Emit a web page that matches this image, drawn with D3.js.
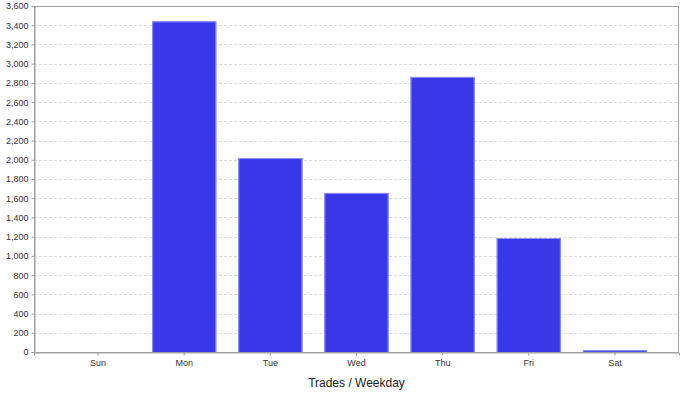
<!DOCTYPE html>
<html>
<head>
<meta charset="utf-8">
<script src="https://cdn.jsdelivr.net/npm/d3@7"></script>
<style>
  html, body { margin: 0; background: #fff; }
  svg { display: block; font-family: "Liberation Sans", Arial, sans-serif; }
</style>
</head>
<body>
<svg id="chart" width="686" height="396"></svg>
<script>
// chart data
const days = ['Sun', 'Mon', 'Tue', 'Wed', 'Thu', 'Fri', 'Sat']
const trades = [0, 3440, 2018, 1655, 2862, 1186, 18]
const yTicks = d3.range(0, 3601, 200)

const width = 686, height = 396
const margin = {top: 6, right: 7, bottom: 44, left: 34}

const svg = d3.select('#chart')

const x = d3.scaleBand()
	.domain(days)
	.range([margin.left, width - margin.right])
	.paddingInner(0.256)
	.paddingOuter(0.372)

const y = d3.scaleLinear()
	.domain([0, 3600])
	.range([height - margin.bottom, margin.top])

// dashed grid
svg.append('g')
	.selectAll('line')
	.data(yTicks.slice(1))
	.join('line')
	.attr('x1', margin.left)
	.attr('x2', width - margin.right)
	.attr('y1', d => Math.round(y(d)) + 0.5)
	.attr('y2', d => Math.round(y(d)) + 0.5)
	.attr('stroke', '#dcdcdc')
	.attr('stroke-dasharray', '3,2')

const barData = days.map((d, i) => ({day: d, value: trades[i]})).filter(d => d.value > 0)

// bars: solid fill, then a lighter edge on the top and sides
const bars = svg.append('g')
bars.selectAll('rect')
	.data(barData)
	.join('rect')
	.attr('x', d => x(d.day))
	.attr('y', d => y(d.value))
	.attr('width', x.bandwidth())
	.attr('height', d => y(0) - y(d.value))
	.attr('fill', '#3838e8')

bars.selectAll('path')
	.data(barData)
	.join('path')
	.attr('d', d => {
		const x0 = x(d.day) + 0.5, x1 = x(d.day) + x.bandwidth() - 0.5
		const t = y(d.value) + 0.5, b = y(0)
		return `M${x0},${b}V${t}H${x1}V${b}`
	})
	.attr('fill', 'none')
	.attr('stroke', '#9090f2')

// plot outline
svg.append('rect')
	.attr('x', margin.left + 0.5)
	.attr('y', margin.top + 0.5)
	.attr('width', width - margin.left - margin.right - 1)
	.attr('height', height - margin.top - margin.bottom)
	.attr('fill', 'none')
	.attr('stroke', '#a0a0a0')

// y axis
const yAxis = svg.append('g')
	.attr('transform', `translate(${margin.left + 0.5},0)`)
	.call(d3.axisLeft(y).tickValues(yTicks).tickSize(3).tickPadding(3).tickFormat(d3.format(',')))
yAxis.select('.domain').attr('stroke', '#a0a0a0')
yAxis.selectAll('.tick line').attr('stroke', '#a0a0a0')
yAxis.selectAll('text').attr('font-size', 9).attr('fill', '#333')
	.attr('font-family', '"Liberation Sans", Arial, sans-serif')

// x axis
const xAxis = svg.append('g')
	.attr('transform', `translate(0,${height - margin.bottom + 0.5})`)
	.call(d3.axisBottom(x).tickSize(3).tickPadding(4))
xAxis.select('.domain').attr('stroke', '#a0a0a0')
xAxis.selectAll('.tick line').attr('stroke', '#a0a0a0')
xAxis.selectAll('text').attr('font-size', 9).attr('fill', '#333')
	.attr('font-family', '"Liberation Sans", Arial, sans-serif')

// axis title
svg.append('text')
	.attr('x', (margin.left + width - margin.right) / 2)
	.attr('y', 387)
	.attr('text-anchor', 'middle')
	.attr('font-size', 12)
	.attr('fill', '#222')
	.text('Trades / Weekday')
</script>
</body>
</html>
